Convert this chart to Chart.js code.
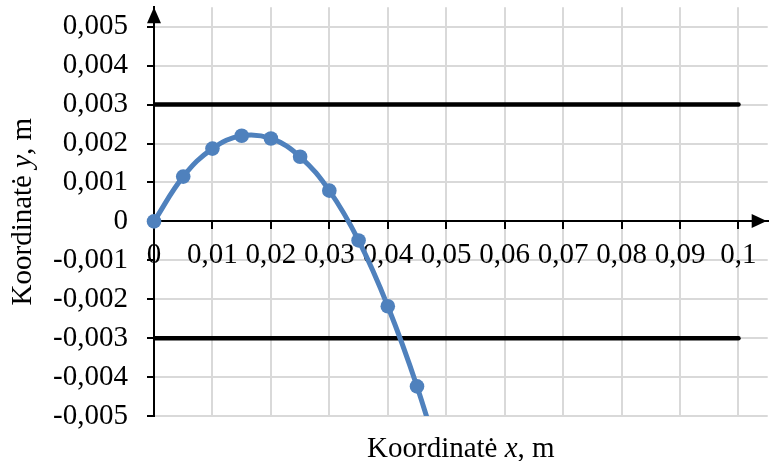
<!DOCTYPE html>
<html>
<head>
<meta charset="utf-8">
<script src="https://cdn.jsdelivr.net/npm/chart.js@4"></script>
<style>
  html, body { margin: 0; padding: 0; background: #ffffff; }
  #wrap { width: 775px; height: 461px; }
</style>
</head>
<body>
<div id="wrap"><canvas id="c" width="775" height="461"></canvas></div>
<script>
// ---- data ----
const xValues = [0, 0.005, 0.01, 0.015, 0.02, 0.025, 0.03, 0.035, 0.04, 0.045, 0.05];
const yValues = [0, 0.00115, 0.00187, 0.0022, 0.00213, 0.00166, 0.00079, -0.00049, -0.00218, -0.00424, -0.0067];
const limitX = [0, 0.1];
const upperLimit = [0.003, 0.003];
const lowerLimit = [-0.003, -0.003];

const xTickValues = [0, 0.01, 0.02, 0.03, 0.04, 0.05, 0.06, 0.07, 0.08, 0.09, 0.1];
const xTickLabels = ['0', '0,01', '0,02', '0,03', '0,04', '0,05', '0,06', '0,07', '0,08', '0,09', '0,1'];
const yTickValues = [-0.005, -0.004, -0.003, -0.002, -0.001, 0, 0.001, 0.002, 0.003, 0.004, 0.005];
const yTickLabels = ['-0,005', '-0,004', '-0,003', '-0,002', '-0,001', '0', '0,001', '0,002', '0,003', '0,004', '0,005'];

const xTitleParts = ['Koordinatė ', 'x', ', m'];
const yTitleParts = ['Koordinatė ', 'y', ', m'];

// ---- styling ----
const BLUE = '#4F81BD';
const GRID = '#d9d9d9';
const FONT_FAMILY = '"Liberation Serif", "Times New Roman", serif';
const FONT_SIZE = 29;

function labelFor(values, labels, v) {
  const i = values.findIndex(t => Math.abs(t - v) < 1e-9);
  return i >= 0 ? labels[i] : '';
}

function drawMixed(ctx, parts) {
  const fonts = parts.map((p, i) => (i === 1 ? 'italic ' : '') + FONT_SIZE + 'px ' + FONT_FAMILY);
  const widths = parts.map((p, i) => { ctx.font = fonts[i]; return ctx.measureText(p).width; });
  const total = widths.reduce((a, b) => a + b, 0);
  let pos = -total / 2;
  ctx.textAlign = 'left';
  ctx.textBaseline = 'alphabetic';
  ctx.fillStyle = '#000';
  parts.forEach((p, i) => {
    ctx.font = fonts[i];
    ctx.fillText(p, pos, 0);
    pos += widths[i];
  });
}

const decor = {
  id: 'decor',
  afterDraw(chart) {
    const { ctx, chartArea: a, scales } = chart;
    const ax = Math.round(scales.x.getPixelForValue(0) - 1) + 1;
    const ay = Math.round(scales.y.getPixelForValue(0) - 1) + 1;
    ctx.save();
    ctx.fillStyle = '#000';
    // y-axis arrow
    ctx.beginPath();
    ctx.moveTo(ax, a.top);
    ctx.lineTo(ax - 7, a.top + 16);
    ctx.lineTo(ax + 7, a.top + 16);
    ctx.closePath();
    ctx.fill();
    // x-axis arrow
    ctx.beginPath();
    ctx.moveTo(a.right - 1, ay);
    ctx.lineTo(a.right - 16, ay - 7);
    ctx.lineTo(a.right - 16, ay + 7);
    ctx.closePath();
    ctx.fill();
    // x title
    ctx.save();
    ctx.translate((a.left + a.right) / 2, 457);
    drawMixed(ctx, xTitleParts);
    ctx.restore();
    // y title
    ctx.save();
    ctx.translate(31, (a.top + a.bottom) / 2);
    ctx.rotate(-Math.PI / 2);
    drawMixed(ctx, yTitleParts);
    ctx.restore();
    ctx.restore();
  }
};

new Chart(document.getElementById('c'), {
  type: 'line',
  data: {
    datasets: [
      {
        label: 'Koordinatė y',
        data: xValues.map((x, i) => ({ x: x, y: yValues[i] })),
        borderColor: BLUE,
        backgroundColor: BLUE,
        pointBackgroundColor: BLUE,
        pointBorderColor: BLUE,
        borderWidth: 5,
        pointRadius: 7.3,
        pointHoverRadius: 7.3,
        pointBorderWidth: 0,
        tension: 0.4,
        clip: { left: 12, top: 12, right: 0, bottom: 0 },
        order: 0
      },
      {
        label: 'upper',
        data: limitX.map((x, i) => ({ x: x, y: upperLimit[i] })),
        borderColor: '#000',
        borderWidth: 4.5,
        borderCapStyle: 'round',
        pointRadius: 0,
        order: 1
      },
      {
        label: 'lower',
        data: limitX.map((x, i) => ({ x: x, y: lowerLimit[i] })),
        borderColor: '#000',
        borderWidth: 4.5,
        borderCapStyle: 'round',
        pointRadius: 0,
        order: 1
      }
    ]
  },
  options: {
    responsive: false,
    animation: false,
    events: [],
    layout: { padding: { left: 0, right: 1, top: 6.5, bottom: 45 } },
    elements: { line: { capBezierPoints: false } },
    plugins: { legend: { display: false }, tooltip: { enabled: false }, title: { display: false } },
    scales: {
      x: {
        type: 'linear',
        position: { y: 0 },
        min: 0,
        max: 0.105,
        afterFit: s => { s.paddingLeft = 0; s.paddingRight = 0; },
        afterBuildTicks: s => { s.ticks = xTickValues.map(v => ({ value: v })); },
        ticks: {
          autoSkip: false,
          maxRotation: 0,
          minRotation: 0,
          padding: 10,
          color: '#000',
          font: { family: FONT_FAMILY, size: FONT_SIZE },
          callback: v => labelFor(xTickValues, xTickLabels, v)
        },
        grid: {
          color: c => (c.tick && c.tick.value === 0 ? 'rgba(0,0,0,0)' : GRID),
          lineWidth: 2,
          tickColor: '#000',
          tickLength: 7,
          tickWidth: 2
        },
        border: { display: true, color: '#000', width: 2 }
      },
      y: {
        type: 'linear',
        position: 'left',
        min: -0.005,
        max: 0.0055,
        afterFit: s => { s.width = 154; s.paddingTop = 0; s.paddingBottom = 0; },
        afterBuildTicks: s => { s.ticks = yTickValues.map(v => ({ value: v })); },
        ticks: {
          padding: 19,
          color: '#000',
          font: { family: FONT_FAMILY, size: FONT_SIZE },
          callback: v => labelFor(yTickValues, yTickLabels, v)
        },
        grid: {
          color: c => (c.tick && Math.abs(c.tick.value) < 1e-12 ? 'rgba(0,0,0,0)' : GRID),
          lineWidth: 2,
          tickColor: '#000',
          tickLength: 7,
          tickWidth: 2
        },
        border: { display: true, color: '#000', width: 2 }
      }
    }
  },
  plugins: [decor]
});
</script>
</body>
</html>
